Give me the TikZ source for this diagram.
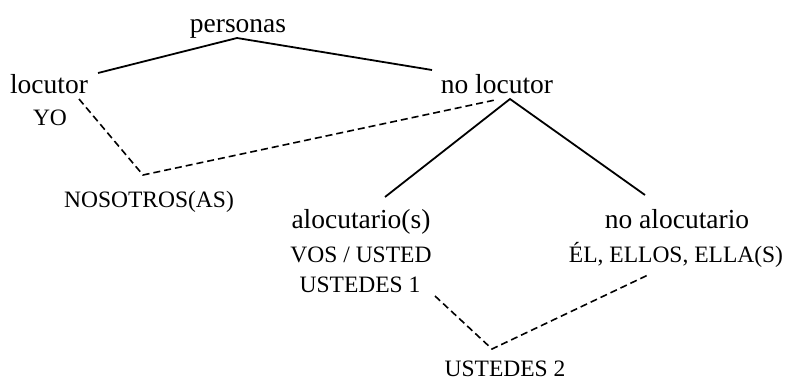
\documentclass[tikz,border=0pt]{standalone}
\usepackage{fontspec}
\setmainfont{Liberation Serif}
\begin{document}
\begin{tikzpicture}[x=1pt,y=-1pt,
  lc/.style={inner sep=0pt,anchor=base,font=\fontsize{27.5}{30}\selectfont},
  uc/.style={inner sep=0pt,anchor=base,font=\fontsize{23.5}{26}\selectfont},
  edge/.style={line width=1.8pt},
  dedge/.style={line width=1.6pt,dash pattern=on 7pt off 4pt}]
\useasboundingbox[fill=white] (0,0) rectangle (790,381);
% labels
\node[lc] (personas) at (238,32) {personas};
\node[lc] (locutor) at (49,93) {locutor};
\node[uc] (yo) at (50,125) {YO};
\node[lc] (nolocutor) at (497,93) {no locutor};
\node[uc] (nosotros) at (149,207) {NOSOTROS(AS)};
\node[lc] (alocutario) at (361,228) {alocutario(s)};
\node[uc] (vos) at (361,262) {VOS / USTED};
\node[uc] (ustedes1) at (360,292) {USTEDES 1};
\node[lc] (noalocutario) at (677,228) {no alocutario};
\node[uc] (el) at (676,262) {ÉL, ELLOS, ELLA(S)};
\node[uc] (ustedes2) at (505,376) {USTEDES 2};
% connector ends
\coordinate (pTop) at (237,38);
\coordinate (locTop) at (98,73);
\coordinate (nolocLeft) at (432,70);
\coordinate (nolocTop) at (510,99);
\coordinate (aloTop) at (385,197);
\coordinate (noaloTop) at (645,195);
\coordinate (yoEnd) at (79,99);
\coordinate (nosV) at (143,175);
\coordinate (nolocDash) at (495,100);
\coordinate (u1End) at (435,296);
\coordinate (u2V) at (492,349);
\coordinate (elEnd) at (648,275);
% connectors
\draw[edge] (locTop) -- (pTop) -- (nolocLeft);
\draw[edge] (aloTop) -- (nolocTop) -- (noaloTop);
\draw[dedge] (yoEnd) -- (nosV) -- (nolocDash);
\draw[dedge] (u1End) -- (u2V) -- (elEnd);
\end{tikzpicture}
\end{document}
